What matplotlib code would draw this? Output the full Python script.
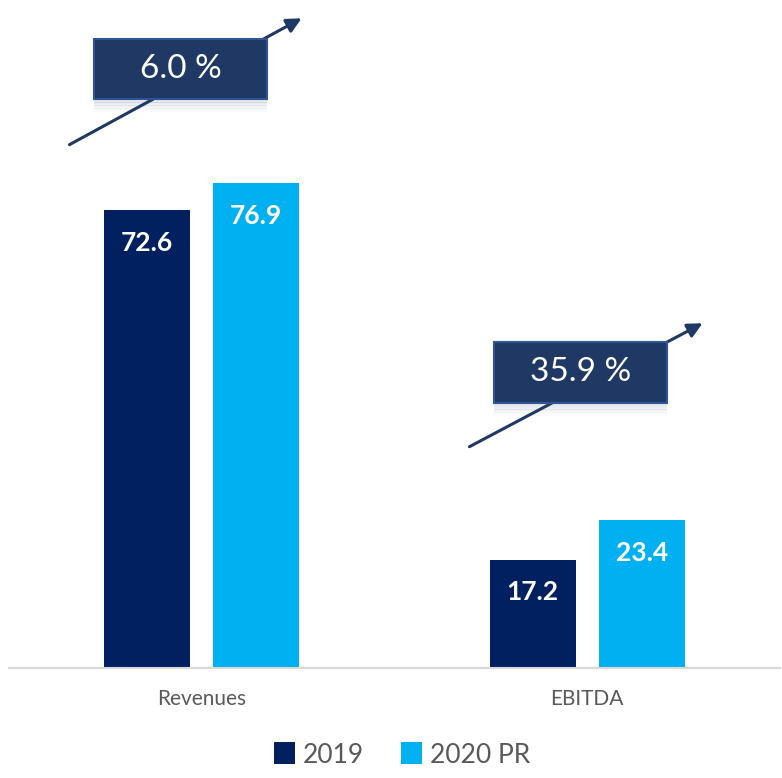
import matplotlib.pyplot as plt
import numpy as np
from matplotlib.patches import Rectangle, FancyArrowPatch

# data
categories = ['Revenues', 'EBITDA']
series = ['2019', '2020 PR']
values_2019 = [72.6, 17.2]
values_2020 = [76.9, 23.4]
growth = ['6.0 %', '35.9 %']

dark = '#002060'
light = '#00B0F0'
navy = '#1F3864'
grey = '#595959'

plt.rcParams['font.family'] = ['Lato', 'DejaVu Sans']

W, H = 782, 778
fig = plt.figure(figsize=(W / 100, H / 100), dpi=100)


def fx(px):
    return px / W


def fy(py):
    return 1 - py / H


ax = fig.add_axes([fx(9), fy(668), fx(780) - fx(9), fy(0) - fy(668)])

x = np.arange(len(categories))
w = 0.223
off = 0.1414
b1 = ax.bar(x - off, values_2019, w, color=dark, label=series[0])
b2 = ax.bar(x + off, values_2020, w, color=light, label=series[1])

for bars, vals in [(b1, values_2019), (b2, values_2020)]:
    for rect, v in zip(bars, vals):
        ax.annotate(f'{v:.1f}', (rect.get_x() + rect.get_width() / 2, v),
                    xytext=(0, -23.5), textcoords='offset points',
                    ha='center', va='center', color='white',
                    fontsize=19, fontweight='bold')

ax.set_xlim(-0.5, 1.5)
ax.set_ylim(0, 105.9)
ax.set_xticks(x)
ax.set_xticklabels(categories, fontsize=15, color=grey)
ax.tick_params(axis='x', length=0, pad=15)
ax.set_yticks([])
for s in ['top', 'right', 'left']:
    ax.spines[s].set_visible(False)
ax.spines['bottom'].set_color('#D9D9D9')
ax.spines['bottom'].set_linewidth(1.5)

# growth arrows with boxed percentages
arrows = [((67, 146), (304, 17), (94, 39, 267, 99)),
          ((467, 448), (705, 322), (494, 342, 667, 403))]
for label, (start, end, box) in zip(growth, arrows):
    fig.patches.append(FancyArrowPatch(
        (fx(start[0]), fy(start[1])), (fx(end[0]), fy(end[1])),
        transform=fig.transFigure, arrowstyle='-|>', mutation_scale=22,
        color=navy, linewidth=2.2, zorder=3))
    x0, y0, x1, y1 = box
    # soft reflection under the box
    for i in range(8):
        fig.patches.append(Rectangle((fx(x0), fy(y1 + 2 + i * 1.5)), fx(x1) - fx(x0), 1.5 / H,
                                     transform=fig.transFigure, facecolor=navy,
                                     alpha=0.12 * (1 - i / 8), edgecolor='none', zorder=4))
    fig.patches.append(Rectangle((fx(x0), fy(y1)), fx(x1) - fx(x0), fy(y0) - fy(y1),
                                 transform=fig.transFigure, facecolor=navy,
                                 edgecolor='#2F5597', linewidth=1.5, zorder=5))
    fig.text(fx((x0 + x1) / 2), fy((y0 + y1) / 2), label, ha='center', va='center',
             color='white', fontsize=24, zorder=6)

fig.legend(loc='center', bbox_to_anchor=(fx(402), fy(755)), ncol=2, frameon=False,
           fontsize=19, labelcolor=grey, handlelength=0.8, handleheight=0.9,
           handletextpad=0.3, columnspacing=1.4)

fig.savefig('out.png', dpi=100)
